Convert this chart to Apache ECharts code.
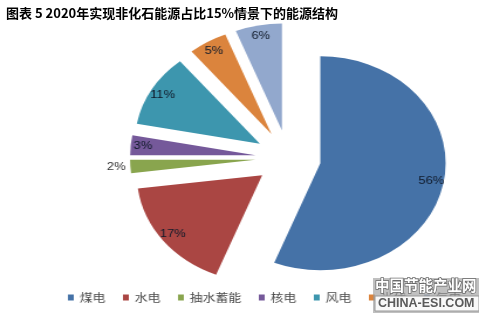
<!DOCTYPE html>
<html>
<head>
<meta charset="utf-8">
<script src="https://cdn.jsdelivr.net/npm/echarts@6/dist/echarts.min.js"></script>
<style>
html,body{margin:0;padding:0;background:#fff;overflow:hidden;}
#a{position:absolute;left:0;top:0;width:409px;height:313px;transform:scaleX(1.1711);transform-origin:0 0;}
#b{position:absolute;left:0;top:0;width:479px;height:313px;pointer-events:none;}
</style>
</head>
<body>
<div id="a"></div>
<div id="b"></div>
<script>
const titleText = '图表 5 2020年实现非化石能源占比15%情景下的能源结构';
const categories = ['煤电', '水电', '抽水蓄能', '核电', '风电', '光伏', '气电'];
const shares = [56, 17, 2, 3, 11, 5, 6];
const colors = ['#4572A7', '#AA4643', '#89A54E', '#75599A', '#3D96AE', '#DB843D', '#92A8CD'];

const labelColor = '#101A2A';

const pieData = categories.map((n, i) => ({
  name: n, value: shares[i], selected: true,
  itemStyle: { color: colors[i] }
}));
const labelData = categories.map((n, i) => {
  const d = { name: n, value: shares[i], selected: true };
  if (shares[i] <= 2) {
    d.label = { position: 'outside', distanceToLabelLine: 3, color: '#333' };
    d.labelLine = { show: false, length: 1, length2: 0 };
  }
  return d;
});

const chartA = echarts.init(document.getElementById('a'), null, { renderer: 'canvas' });
chartA.setOption({
  animation: false,
  color: colors,
  legend: {
    data: categories,
    left: 53,
    top: 287,
    icon: 'rect',
    itemWidth: 5,
    itemHeight: 6,
    itemGap: 15,
    textStyle: { fontSize: 11, color: '#4a4a4a', fontFamily: 'Noto Sans CJK SC' },
    selectedMode: false
  },
  series: [
    {
      type: 'pie',
      name: 'main',
      center: [246, 158],
      radius: 107,
      startAngle: 90,
      clockwise: true,
      selectedMode: 'multiple',
      selectedOffset: 28,
      avoidLabelOverlap: false,
      label: { show: false },
      labelLine: { show: false },
      emphasis: { disabled: true },
      select: { itemStyle: { borderWidth: 0 } },
      silent: true,
      data: pieData
    },
    {
      type: 'pie',
      name: 'labels',
      center: [246, 158],
      radius: [80, 107],
      startAngle: 90,
      clockwise: true,
      selectedMode: 'multiple',
      selectedOffset: 28,
      avoidLabelOverlap: false,
      silent: true,
      itemStyle: { color: 'rgba(0,0,0,0)' },
      select: { itemStyle: { color: 'rgba(0,0,0,0)', borderWidth: 0 } },
      emphasis: { disabled: true },
      label: {
        show: true,
        position: 'inside',
        formatter: '{c}%',
        fontSize: 11,
        fontFamily: 'Liberation Sans',
        color: labelColor
      },
      labelLine: { show: false },
      data: labelData
    }
  ]
});

const chartB = echarts.init(document.getElementById('b'), null, { renderer: 'canvas' });
chartB.setOption({
  animation: false,
  title: {
    text: titleText,
    left: 1,
    top: 2,
    textStyle: { fontSize: 13, fontWeight: 'bold', color: '#000', fontFamily: 'Noto Sans CJK SC' }
  },
  graphic: [
    { type: 'rect', shape: { x: 373, y: 278, width: 106, height: 35 }, style: { fill: 'rgba(150,150,150,0.6)' }, z: 10 },
    { type: 'text', x: 375, y: 278, style: { text: '中国节能产业网', font: 'bold 14.5px "Noto Sans CJK SC"', fill: '#ffffff', stroke: '#6a6a6a', lineWidth: 1.5 }, z: 11 },
    { type: 'rect', shape: { x: 375, y: 296, width: 104, height: 15 }, style: { fill: 'rgba(255,255,255,0.9)', stroke: '#999', lineWidth: 1 }, z: 11 },
    { type: 'text', x: 378, y: 297, style: { text: 'CHINA-ESI.COM', font: 'bold 12.5px "Liberation Sans"', fill: '#5a5a5a' }, z: 12 }
  ]
});
</script>
</body>
</html>
